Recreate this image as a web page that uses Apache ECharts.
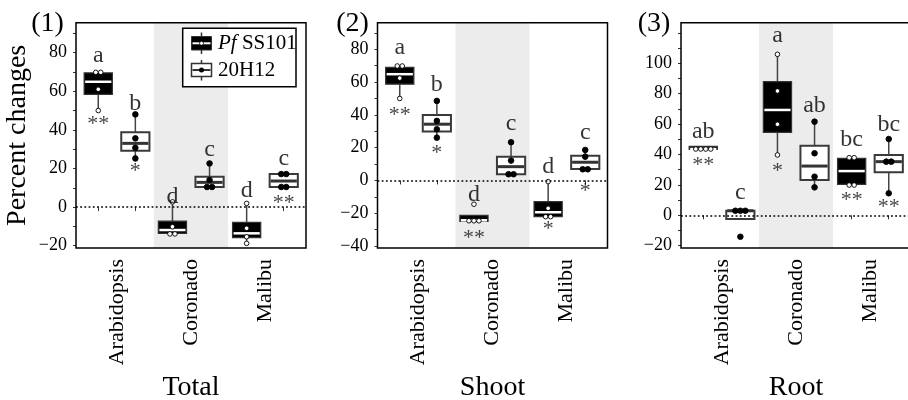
<!DOCTYPE html>
<html>
<head>
<meta charset="utf-8">
<script src="https://cdn.jsdelivr.net/npm/echarts@6/dist/echarts.min.js"></script>
<style>
  html, body { margin: 0; padding: 0; background: #fff; }
  #chart { width: 908px; height: 400px; }
</style>
</head>
<body>
<div id="chart"></div>
<script>
const groups = ['Arabidopsis', 'Coronado', 'Malibu'];
const strains = ['SS101', '20H12'];
const panelNames = ['Total', 'Shoot', 'Root'];
const panelTags = ['(1)', '(2)', '(3)'];

// box stats per group: [min, Q1, median, Q3, max]
const totalPfBox = [[50, 58.4, 64.9, 69.5, 69.5], [-13.8, -13.6, -11.9, -7.3, 2.7], [-18.8, -15.9, -13.6, -7.9, 1.9]];
const totalPfPts = [[69.8, 69.8, 61, 50], [2.7, -10.2, -13.9, -13.9], [1.9, -11, -15.4, -18.8]];
const total20Box = [[25.2, 29.2, 33, 38.7, 48], [10.4, 10.4, 12.8, 15.7, 22.6], [10.4, 10.4, 13.5, 17.1, 17.1]];
const total20Pts = [[48, 35.6, 30.7, 25.2], [22.6, 14, 10.4, 10.4], [17.1, 17.1, 10.4, 10.4]];

const shootPfBox = [[50, 58.7, 64.8, 69, 69], [-25, -25, -24.3, -21.3, -21.3], [-22.1, -22.1, -19.4, -12.9, -0.7]];
const shootPfPts = [[69.8, 69.8, 62.4, 50], [-14.5, -24.6, -24.6, -24.6], [-0.7, -17, -22.1, -22.1]];
const shoot20Box = [[26.1, 29.8, 34.3, 39.9, 48.5], [3.8, 3.8, 8.4, 14.5, 23.3], [6.8, 7, 11.1, 15.1, 18.6]];
const shoot20Pts = [[48.5, 36.3, 31.2, 26.1], [23.3, 12.1, 3.8, 3.8], [18.6, 14.5, 6.8, 6.8]];

const rootPfBox = [[43.3, 43.3, 43.6, 45.3, 45.3], [39.7, 54.6, 69.3, 87.9, 105.9], [20.4, 20.4, 29.1, 37.5, 37.5]];
const rootPfPts = [[43.6, 43.6, 43.6, 43.6], [105.9, 81.8, 59.9, 39.7], [37.9, 37.9, 19.9, 19.9]];
const root20Box = [[-2.4, -2.4, 3, 3, 3], [18.4, 23.2, 32.4, 45.8, 61.6], [14.5, 28.3, 35.3, 39.7, 50.2]];
const root20Pts = [[3, 3, 3, -14.1], [61.6, 40.8, 25.4, 18.4], [50.2, 35.3, 35.3, 14.5]];

// letters and stars, order: Pf Arab, 20H12 Arab, Pf Coro, 20H12 Coro, Pf Mali, 20H12 Mali
const totalLetters = ['a', 'b', 'd', 'c', 'd', 'c'];
const totalLetterY = [78.3, 53.7, 5.3, 29.9, 8.3, 25.2];
const totalStars = ['**', '*', '', '', '', '**'];
const totalStarY = [42.9, 18.4, 0, 0, 0, 2.0];

const shootLetters = ['a', 'b', 'd', 'c', 'd', 'c'];
const shootLetterY = [81.1, 58.2, -8.8, 34.7, 8.2, 29.2];
const shootStars = ['**', '*', '**', '', '*', '*'];
const shootStarY = [40, 16.6, -35.2, 0, -29.7, -6.7];

const rootLetters = ['ab', 'c', 'a', 'ab', 'bc', 'bc'];
const rootLetterY = [55, 14.9, 118, 72.1, 49.5, 59.4];
const rootStars = ['**', '', '*', '', '**', '**'];
const rootStarY = [33.2, 0, 28.8, 0, 10.1, 5.1];

const totalTicks = [-20, 0, 20, 40, 60, 80];
const shootTicks = [-40, -20, 0, 20, 40, 60, 80];
const rootTicks = [-20, 0, 20, 40, 60, 80, 100];

const panels = [
  { box: [totalPfBox, total20Box], pts: [totalPfPts, total20Pts], letters: totalLetters, letterY: totalLetterY,
    stars: totalStars, starY: totalStarY, ticks: totalTicks, min: -21.2, max: 95.5, left: 76 },
  { box: [shootPfBox, shoot20Box], pts: [shootPfPts, shoot20Pts], letters: shootLetters, letterY: shootLetterY,
    stars: shootStars, starY: shootStarY, ticks: shootTicks, min: -41.2, max: 96.2, left: 377.5 },
  { box: [rootPfBox, root20Box], pts: [rootPfPts, root20Pts], letters: rootLetters, letterY: rootLetterY,
    stars: rootStars, starY: rootStarY, ticks: rootTicks, min: -21.5, max: 126.7, left: 681 }
];

const FONT = 'Liberation Serif, Times New Roman, serif';
const DODGE = 0.25, HALF = 0.19;

const styles = [
  { fill: '#000', stroke: '#333', lw: 1.2, median: '#fff', medW: 2.5, ptFill: '#fff', ptStroke: '#000', ptR: 2.3 },
  { fill: '#fff', stroke: '#3a3a3a', lw: 2, median: '#333', medW: 3, ptFill: '#000', ptStroke: '#000', ptR: 2.8 }
];

function boxSeries(pi, si) {
  const p = panels[pi];
  const st = styles[si];
  const ptsArr = p.pts[si];
  return {
    type: 'custom',
    xAxisIndex: pi, yAxisIndex: pi,
    z: 3,
    encode: { x: 0, y: [1, 2, 3, 4, 5] },
    data: p.box[si].map((b, g) => [g + 1 + (si === 0 ? -DODGE : DODGE)].concat(b)),
    renderItem(params, api) {
      const x = api.value(0);
      const mn = api.value(1), q1 = api.value(2), md = api.value(3), q3 = api.value(4), mx = api.value(5);
      const tl = api.coord([x - HALF, q3]);
      const br = api.coord([x + HALF, q1]);
      const cx = api.coord([x, 0])[0];
      const yMax = api.coord([x, mx])[1], yMin = api.coord([x, mn])[1];
      const yMed = api.coord([x, md])[1];
      const kids = [];
      const wh = { stroke: '#444', lineWidth: 1.5 };
      if (yMax < tl[1]) kids.push({ type: 'line', shape: { x1: cx, y1: yMax, x2: cx, y2: tl[1] }, style: wh });
      if (yMin > br[1]) kids.push({ type: 'line', shape: { x1: cx, y1: br[1], x2: cx, y2: yMin }, style: wh });
      kids.push({ type: 'rect', shape: { x: tl[0], y: tl[1], width: br[0] - tl[0], height: Math.max(br[1] - tl[1], 1) },
        style: { fill: st.fill, stroke: st.stroke, lineWidth: st.lw } });
      kids.push({ type: 'line', shape: { x1: tl[0] + 1, y1: yMed, x2: br[0] - 1, y2: yMed },
        style: { stroke: st.median, lineWidth: st.medW } });
      // points, identical values placed side by side
      const pts = ptsArr[params.dataIndex];
      const counts = {};
      pts.forEach(v => { counts[v] = (counts[v] || 0) + 1; });
      const seen = {};
      pts.forEach(v => {
        const n = counts[v];
        const k = seen[v] = (seen[v] === undefined ? 0 : seen[v] + 1);
        const c = api.coord([x, v]);
        kids.push({ type: 'circle', shape: { cx: c[0] + (k - (n - 1) / 2) * 5, cy: c[1], r: st.ptR },
          style: { fill: st.ptFill, stroke: st.ptStroke, lineWidth: 0.9 } });
      });
      return { type: 'group', children: kids };
    }
  };
}

function labelSeries(pi, texts, ys, size, color) {
  const data = [];
  texts.forEach((t, i) => {
    if (!t) return;
    const g = Math.floor(i / 2) + 1;
    data.push({ name: t, value: [g + (i % 2 === 0 ? -DODGE : DODGE), ys[i]] });
  });
  return {
    type: 'scatter', xAxisIndex: pi, yAxisIndex: pi, z: 4, silent: true,
    symbolSize: 0, data,
    label: { show: true, position: 'inside', formatter: '{b}', fontFamily: FONT, fontSize: size, color }
  };
}

function bgSeries(pi) {
  return [{
    type: 'line', xAxisIndex: pi, yAxisIndex: pi, data: [], z: 1, silent: true,
    markArea: { silent: true, itemStyle: { color: '#ececec' }, data: [[{ xAxis: 1.5 }, { xAxis: 2.5 }]] }
  }, {
    type: 'line', xAxisIndex: pi, yAxisIndex: pi, data: [], z: 2, silent: true,
    markLine: { silent: true, symbol: 'none', label: { show: false },
      lineStyle: { color: '#000', width: 1.6, type: [1.8, 2.4] }, data: [{ yAxis: 0 }] }
  }];
}

const series = [];
panels.forEach((p, pi) => {
  series.push(...bgSeries(pi));
  series.push(boxSeries(pi, 0), boxSeries(pi, 1));
  series.push(labelSeries(pi, p.letters, p.letterY, 24, '#000'));
  series.push(labelSeries(pi, p.stars, p.starY, 22, '#111'));
});

const minus = v => (v < 0 ? '\u2212' + Math.abs(v) : String(v));

// legend drawn as plain graphic elements, on top of the plot
const LZ = 100;
const legendEls = [
  { type: 'rect', shape: { x: 182.7, y: 28.3, width: 113.3, height: 58.5 }, style: { fill: '#fff', stroke: '#000', lineWidth: 1.5 } },
  { type: 'line', shape: { x1: 201.5, y1: 32.5, x2: 201.5, y2: 54 }, style: { stroke: '#333', lineWidth: 1.5 } },
  { type: 'rect', shape: { x: 191.5, y: 36.5, width: 20, height: 13.5 }, style: { fill: '#000', stroke: '#333', lineWidth: 1 } },
  { type: 'line', shape: { x1: 192.5, y1: 43.3, x2: 210.5, y2: 43.3 }, style: { stroke: '#fff', lineWidth: 2 } },
  { type: 'circle', shape: { cx: 201.5, cy: 43.3, r: 2 }, style: { fill: '#fff', stroke: '#000', lineWidth: 0.8 } },
  { type: 'text', x: 218, y: 43.5, style: { rich: { i: { fontStyle: 'italic', fontFamily: FONT, fontSize: 21 }, n: { fontFamily: FONT, fontSize: 21 } },
    text: '{i|Pf}{n| ' + strains[0] + '}', fill: '#000', verticalAlign: 'middle' } },
  { type: 'line', shape: { x1: 201.5, y1: 60, x2: 201.5, y2: 80.5 }, style: { stroke: '#333', lineWidth: 1.5 } },
  { type: 'rect', shape: { x: 191.5, y: 63.5, width: 20, height: 13 }, style: { fill: '#fff', stroke: '#333', lineWidth: 1.5 } },
  { type: 'line', shape: { x1: 192.5, y1: 70, x2: 210.5, y2: 70 }, style: { stroke: '#333', lineWidth: 2 } },
  { type: 'circle', shape: { cx: 201.5, cy: 70, r: 2.5 }, style: { fill: '#000' } },
  { type: 'text', x: 218, y: 70.5, style: { text: strains[1], font: '21px ' + FONT, fill: '#000', verticalAlign: 'middle' } }
].map((el, i) => Object.assign(el, { z: LZ, z2: i }));

const option = {
  animation: false,
  backgroundColor: '#fff',
  grid: panels.map(p => ({ left: p.left, top: 22.7, width: 230, height: 225.3, show: true, z: 10,
    borderColor: '#000', borderWidth: 1.5, backgroundColor: 'transparent', outerBoundsMode: 'none' })),
  xAxis: panels.map((p, pi) => ({
    type: 'value', gridIndex: pi, min: 0.45, max: 3.55,
    name: panelNames[pi], nameLocation: 'middle', nameGap: 116,
    nameTextStyle: { fontFamily: FONT, fontSize: 28, color: '#000' },
    axisLine: { show: false },
    splitLine: { show: false },
    axisTick: { show: true, length: 4, inside: false, lineStyle: { color: '#333', width: 1 },
      customValues: [0.75, 1.25, 1.75, 2.25, 2.75, 3.25] },
    axisLabel: { rotate: 90, margin: 11, fontFamily: FONT, fontSize: 22, color: '#000',
      customValues: [1, 2, 3], formatter: v => groups[Math.round(v) - 1] }
  })),
  yAxis: panels.map((p, pi) => {
    const minor = [];
    for (let v = Math.ceil(p.min / 10) * 10; v <= p.max; v += 10) minor.push(v);
    return {
      type: 'value', gridIndex: pi, min: p.min, max: p.max,
      name: pi === 0 ? 'Percent changes' : '', nameLocation: 'middle', nameRotate: 90, nameGap: 44,
      nameTextStyle: { fontFamily: FONT, fontSize: 28, color: '#000' },
      axisLine: { show: false },
      splitLine: { show: false },
      axisTick: { show: true, length: 3, lineStyle: { color: '#333', width: 1 }, customValues: minor },
      axisLabel: { margin: 9, fontFamily: FONT, fontSize: 18, color: '#000', customValues: p.ticks, formatter: minus }
    };
  }),
  graphic: [
    ...panelTags.map((t, i) => ({
      type: 'text', x: [47.5, 352.5, 654][i], y: 24, z: LZ,
      style: { text: t, font: '28px ' + FONT, fill: '#000', align: 'center', verticalAlign: 'middle' }
    })),
    ...legendEls
  ],
  series
};

const chart = echarts.init(document.getElementById('chart'), null, { renderer: 'canvas' });
chart.setOption(option);
</script>
</body>
</html>
